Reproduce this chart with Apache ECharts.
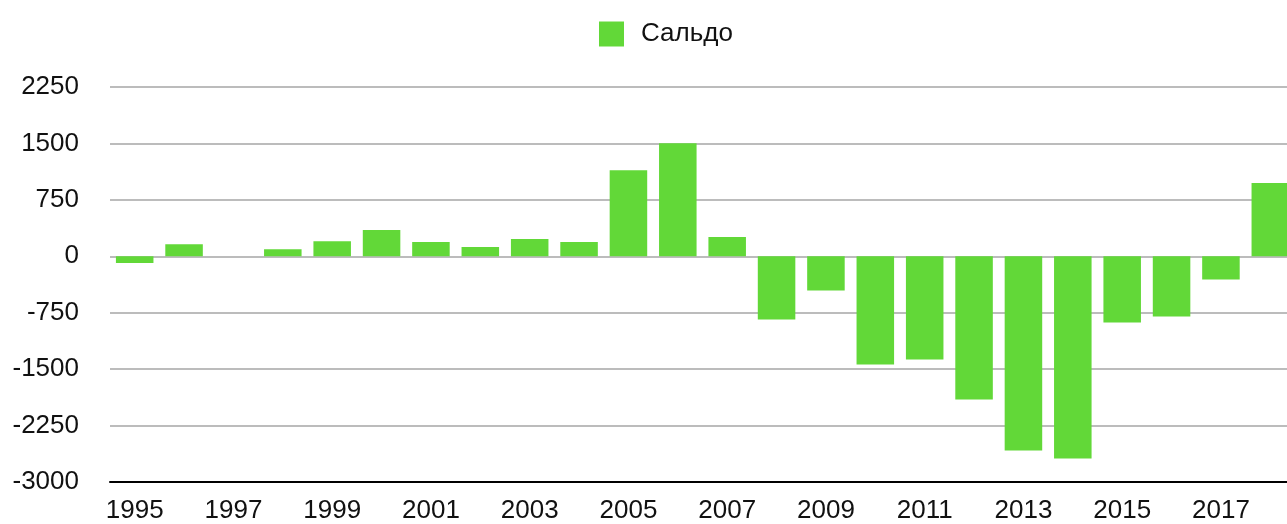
<!DOCTYPE html>
<html lang="ru">
    <head>
        <title>Сальдо</title>
        <meta charset="utf-8">
        <script src="https://cdn.jsdelivr.net/npm/echarts@6/dist/echarts.min.js"></script>
    </head>

    <style>
        html, body {
            width: 100%;
            height: 100%;
            margin: 0;
            overflow: hidden;
            background: #fff;
        }

        #main {
            width: 1295px;
            height: 524px;
        }
    </style>

    <body>
        <div id="main"></div>

        <script>
            const years = ['1995', '1996', '1997', '1998', '1999', '2000', '2001', '2002',
                           '2003', '2004', '2005', '2006', '2007', '2008', '2009', '2010',
                           '2011', '2012', '2013', '2014', '2015', '2016', '2017', '2018'];
            const saldo = [-89, 159, 0, 93, 199, 349, 190, 124,
                           230, 190, 1145, 1503, 256, -841, -456, -1438,
                           -1372, -1903, -2580, -2686, -881, -801, -310, 973];
            const yMin = -3000;
            const yMax = 2250;
            const yStep = 750;

            const font = '"Liberation Sans", Arial, sans-serif';
            const chart = echarts.init(document.getElementById('main'));

            const option = {
                animation: false,
                legend: {
                    top: 16,
                    left: 594,
                    itemWidth: 25,
                    itemHeight: 25,
                    icon: 'rect',
                    textStyle: {
                        fontFamily: font,
                        fontSize: 26,
                        color: '#111',
                        padding: [0, 0, 0, 12]
                    },
                    data: ['Сальдо']
                },
                grid: {
                    left: 110,
                    right: 0,
                    top: 87,
                    bottom: 41
                },
                xAxis: {
                    type: 'category',
                    data: years,
                    axisLine: {
                        onZero: false,
                        lineStyle: { color: '#000', width: 2 }
                    },
                    axisTick: { show: false },
                    axisLabel: {
                        interval: 1,
                        margin: 16,
                        fontFamily: font,
                        fontSize: 26,
                        color: '#111'
                    }
                },
                yAxis: {
                    type: 'value',
                    min: yMin,
                    max: yMax,
                    interval: yStep,
                    axisLine: { show: false },
                    axisTick: { show: false },
                    axisLabel: {
                        margin: 31,
                        fontFamily: font,
                        fontSize: 26,
                        color: '#111',
                        padding: [5, 0, 0, 0],
                        formatter: function (v) { return String(v); }
                    },
                    splitLine: {
                        lineStyle: { color: '#bcbcbc', width: 2 }
                    }
                },
                series: [ {
                    name: 'Сальдо',
                    type: 'bar',
                    data: saldo,
                    barCategoryGap: '24%',
                    itemStyle: { color: '#62d838' }
                } ]
            };

            chart.setOption(option);
        </script>
    </body>
</html>
